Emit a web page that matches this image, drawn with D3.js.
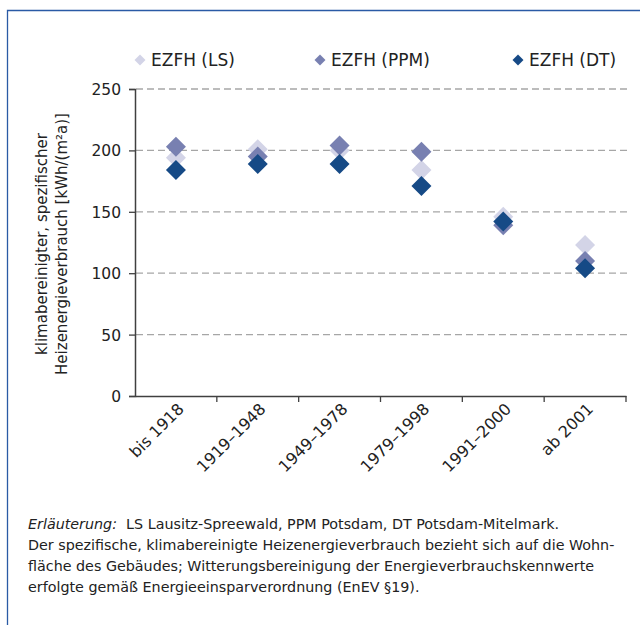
<!DOCTYPE html>
<html><head><meta charset="utf-8">
<script src="https://cdn.jsdelivr.net/npm/d3@7"></script>
<style>
body{margin:0;background:#fff;}
svg{display:block;font-family:"DejaVu Sans",sans-serif;}
</style></head>
<body>
<svg id="c" width="640" height="625"></svg>
<script>
const categories = ["bis 1918","1919–1948","1949–1978","1979–1998","1991–2000","ab 2001"];
const seriesNames = ["EZFH (LS)","EZFH (PPM)","EZFH (DT)"];
const seriesColors = ["#d3d4e7","#7880b1","#164a86"];
const valuesLS  = [194, 201, 200, 184, 146, 123];
const valuesPPM = [203, 195, 204, 199, 139, 110];
const valuesDT  = [184, 189, 189, 171, 142, 104];
const yTicks = [0,50,100,150,200,250];
const yTitle = ["klimabereinigter, spezifischer","Heizenergieverbrauch [kWh/(m²a)]"];
const note = [
  ["Erläuterung:", "  LS Lausitz-Spreewald, PPM Potsdam, DT Potsdam-Mitelmark."],
  ["", "Der spezifische, klimabereinigte Heizenergieverbrauch bezieht sich auf die Wohn-"],
  ["", "fläche des Gebäudes; Witterungsbereinigung der Energieverbrauchskennwerte"],
  ["", "erfolgte gemäß Energieeinsparverordnung (EnEV §19)."]
];
const series = [valuesLS, valuesPPM, valuesDT];
const FF = "'DejaVu Sans',sans-serif";

const svg = d3.select("#c");
svg.append("path").attr("d","M7.5,625 L7.5,10.5 L640,10.5").attr("fill","none")
  .attr("stroke","#2a5aa5").attr("stroke-width",1.3);

const x = d3.scaleBand().domain(categories).range([135,626]);
const y = d3.scaleLinear().domain([0,250]).range([396,89]);

svg.append("g").selectAll("line").data(yTicks.filter(t=>t>0)).join("line")
  .attr("x1",136).attr("x2",627).attr("y1",d=>y(d)).attr("y2",d=>y(d))
  .attr("stroke","#a6a6a6").attr("stroke-width",1.3).attr("stroke-dasharray","7,4");

const ya = svg.append("g").attr("transform","translate(135,0)")
  .call(d3.axisLeft(y).tickValues(yTicks).tickSize(6).tickPadding(8));
ya.attr("font-family",FF);
ya.select(".domain").attr("stroke","#404040").attr("stroke-width",1.5);
ya.selectAll(".tick line").attr("stroke","#404040").attr("stroke-width",1.3);
ya.selectAll("text").attr("font-size",15.5).attr("fill","#222").attr("dy","0.36em");

const xa = svg.append("g").attr("transform","translate(0,396)")
  .call(d3.axisBottom(x).tickSizeOuter(0).tickSize(0).tickFormat(""));
xa.attr("font-family",FF);
xa.select(".domain").attr("stroke","#404040").attr("stroke-width",1.5);
xa.selectAll(".tick").remove();
const bounds = categories.map(c=>x(c)).concat([x.range()[1]]);
xa.selectAll("line.b").data(bounds.slice(1)).join("line").attr("class","b")
  .attr("x1",d=>d).attr("x2",d=>d).attr("y1",0).attr("y2",6)
  .attr("stroke","#404040").attr("stroke-width",1.3);
xa.selectAll("text.l").data(categories).join("text").attr("class","l")
  .attr("transform",d=>`translate(${x(d)+x.bandwidth()/2+9},14) rotate(-45)`)
  .attr("text-anchor","end").attr("font-size",16).attr("fill","#222").text(d=>d);

const yt = svg.append("text").attr("transform","translate(0,244) rotate(-90)")
  .attr("text-anchor","middle").attr("font-size",15).attr("fill","#222");
yTitle.forEach((t,i)=>yt.append("tspan").attr("x",0).attr("y",47+i*20).text(t));

series.forEach((vals,si)=>{
  svg.append("g").selectAll("path").data(vals).join("path")
    .attr("transform",(d,i)=>`translate(${x(categories[i])+x.bandwidth()/2},${y(d)}) rotate(45)`)
    .attr("d",d3.symbol().type(d3.symbolSquare).size(200)())
    .attr("fill",seriesColors[si]);
});

const legX = [140,320,518];
seriesNames.forEach((n,i)=>{
  svg.append("path").attr("transform",`translate(${legX[i]},60) rotate(45)`)
    .attr("d",d3.symbol().type(d3.symbolSquare).size(60)()).attr("fill",seriesColors[i]);
  svg.append("text").attr("x",legX[i]+11).attr("y",66).attr("font-size",17)
    .attr("fill","#222").text(n);
});

note.forEach((ln,i)=>{
  const t = svg.append("text").attr("x",28).attr("y",529+i*21).attr("font-size",14.3).attr("fill","#222")
    .attr("xml:space","preserve");
  if(ln[0]) t.append("tspan").attr("font-style","italic").text(ln[0]);
  t.append("tspan").text(ln[1]);
});
</script>
</body></html>
